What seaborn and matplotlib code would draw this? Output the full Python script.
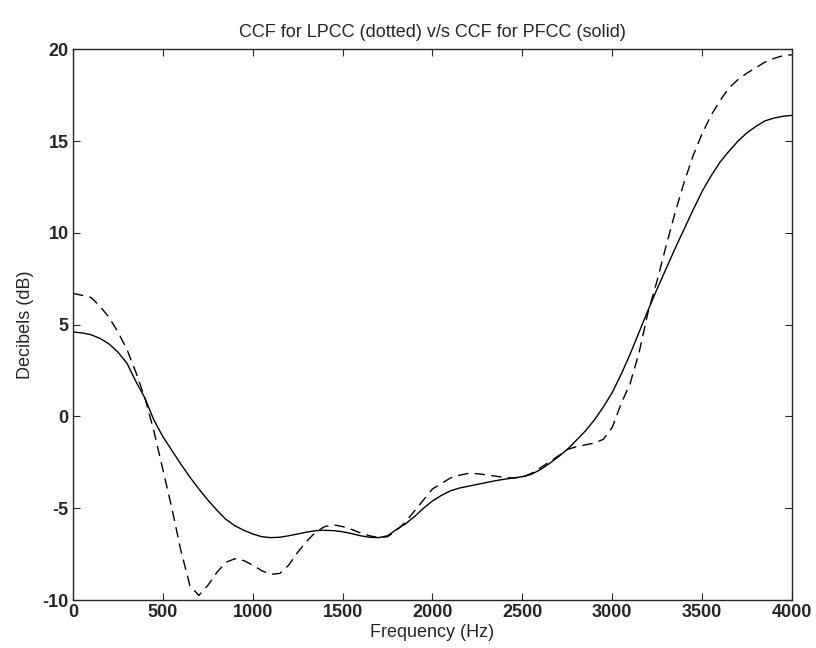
import numpy as np
import pandas as pd
import matplotlib
matplotlib.use("Agg")
import matplotlib.pyplot as plt
import seaborn as sns

# frequency grid (Hz), values every 50 Hz
freq = list(range(0, 4001, 50))

# CCF for PFCC (solid)
pfcc = [4.6, 4.55, 4.45, 4.25, 3.95, 3.5, 2.9, 1.9, 1.0, -0.2,
        -1.1, -1.85, -2.6, -3.3, -3.95, -4.55, -5.1, -5.6, -5.95, -6.2,
        -6.4, -6.55, -6.6, -6.58, -6.5, -6.4, -6.3, -6.22, -6.2, -6.22,
        -6.28, -6.38, -6.5, -6.58, -6.6, -6.5, -6.15, -5.85, -5.45, -5.0,
        -4.6, -4.3, -4.05, -3.9, -3.8, -3.7, -3.6, -3.5, -3.42, -3.35,
        -3.28, -3.15, -2.9, -2.57, -2.2, -1.8, -1.3, -0.8, -0.2, 0.5,
        1.3, 2.3, 3.4, 4.6, 5.8, 6.95, 8.05, 9.15, 10.2, 11.25,
        12.25, 13.1, 13.85, 14.45, 15.0, 15.45, 15.8, 16.1, 16.25, 16.35,
        16.4]

# CCF for LPCC (dashed)
lpcc = [6.7, 6.6, 6.48, 6.0, 5.4, 4.6, 3.65, 2.4, 1.0, -0.8,
        -2.9, -5.0, -7.3, -9.2, -9.75, -9.2, -8.5, -7.95, -7.75, -7.85,
        -8.1, -8.4, -8.6, -8.55, -8.1, -7.4, -6.8, -6.3, -6.0, -5.9,
        -6.0, -6.15, -6.35, -6.5, -6.6, -6.55, -6.2, -5.75, -5.15, -4.55,
        -3.95, -3.65, -3.35, -3.2, -3.1, -3.12, -3.18, -3.25, -3.32, -3.35,
        -3.32, -3.1, -2.8, -2.48, -2.15, -1.8, -1.65, -1.55, -1.45, -1.25,
        -0.6, 0.7, 1.8, 3.5, 5.7, 7.4, 9.3, 11.1, 12.75, 14.2,
        15.4, 16.4, 17.2, 17.9, 18.35, 18.7, 19.0, 19.3, 19.5, 19.65,
        19.7]

xticks = [0, 500, 1000, 1500, 2000, 2500, 3000, 3500, 4000]
yticks = [-10, -5, 0, 5, 10, 15, 20]

df = pd.DataFrame({"freq": freq, "pfcc": pfcc, "lpcc": lpcc})

sns.set_theme(style="ticks", rc={
    "xtick.direction": "in",
    "ytick.direction": "in",
    "xtick.top": True,
    "ytick.right": True,
    "xtick.major.size": 5,
    "ytick.major.size": 5,
    "axes.linewidth": 1.0,
    "axes.unicode_minus": False,
})
plt.rcParams["font.family"] = ["Liberation Sans", "DejaVu Sans"]

fig = plt.figure(figsize=(8.16, 6.48), dpi=100)
ax = fig.add_axes([0.0895, 0.074, 0.881, 0.850])

sns.lineplot(data=df, x="freq", y="lpcc", ax=ax, color="black",
             linewidth=1.0, linestyle=(0, (7.5, 4.5)))
sns.lineplot(data=df, x="freq", y="pfcc", ax=ax, color="black",
             linewidth=1.0)

ax.set_xlim(0, 4000)
ax.set_ylim(-10, 20)
ax.set_xticks(xticks)
ax.set_yticks(yticks)
ax.tick_params(labelsize=13, width=0.8, pad=3)
for lab in ax.get_xticklabels() + ax.get_yticklabels():
    lab.set_fontweight("bold")

ax.set_title("CCF for LPCC (dotted) v/s CCF for PFCC (solid)", fontsize=13, pad=9)
ax.set_xlabel("Frequency (Hz)", fontsize=13, labelpad=2)
ax.set_ylabel("Decibels (dB)", fontsize=13, labelpad=6)
for s in ax.spines.values():
    s.set_visible(True)

fig.savefig("out.png", dpi=100)
